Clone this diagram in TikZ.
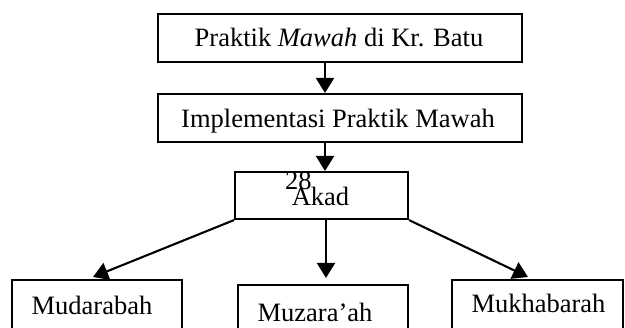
\documentclass[tikz,border=0pt]{standalone}
\usepackage{fontspec}
\setmainfont{Liberation Serif}
\usetikzlibrary{arrows.meta,calc}
\begin{document}
\begin{tikzpicture}[x=1pt,y=-1pt,
  box/.style={draw=black, line width=2.1pt, rectangle, inner sep=0pt, anchor=north west},
  txt/.style={anchor=base, inner sep=0pt, font=\fontsize{26.5}{30}\selectfont},
  arr/.style={draw=black, line width=2.1pt, -{Triangle[width=18pt,length=15pt]}}]
\useasboundingbox (0,0) rectangle (625,328);
\clip (0,0) rectangle (625,328);
% boxes
\node[box, minimum width=364pt, minimum height=48pt] (top) at (157,13) {};
\node[box, minimum width=364pt, minimum height=48pt] (impl) at (157,93) {};
\node[box, minimum width=173pt, minimum height=47pt] (akad) at (234,171) {};
\node[box, minimum width=170pt, minimum height=80pt] (mud) at (11,279) {};
\node[box, minimum width=170pt, minimum height=80pt] (muz) at (237,284) {};
\node[box, minimum width=171pt, minimum height=80pt] (muk) at (451,279) {};
% texts
\node[txt] (topt) at (339,47) {Praktik \textit{Mawah} di Kr. Batu};
\node[txt] (implt) at (338,128) {Implementasi Praktik Mawah};
\node[txt] (akadt) at (320.5,206) {Akad};
\node[txt, anchor=base west] (pagenum) at (285,190) {28};
\node[txt] (mudt) at (92,315) {Mudarabah};
\node[txt] (muzt) at (315,322) {Muzara’ah};
\node[txt] (mukt) at (538.5,313) {Mukhabarah};
% connectors
\draw[arr] (top.south -| 325,0) -- (impl.north -| 325,0);
\draw[arr] (impl.south -| 325,0) -- (akad.north -| 325,0);
\draw[arr] (akad.south -| 326,0) -- ($(muz.north -| 326,0)+(0,-6)$);
\draw[arr] (akad.south west) -- ($(mud.north west)+(82,-2)$);
\draw[arr] (akad.south east) -- ($(muk.north west)+(77,-2)$);
\end{tikzpicture}
\end{document}
